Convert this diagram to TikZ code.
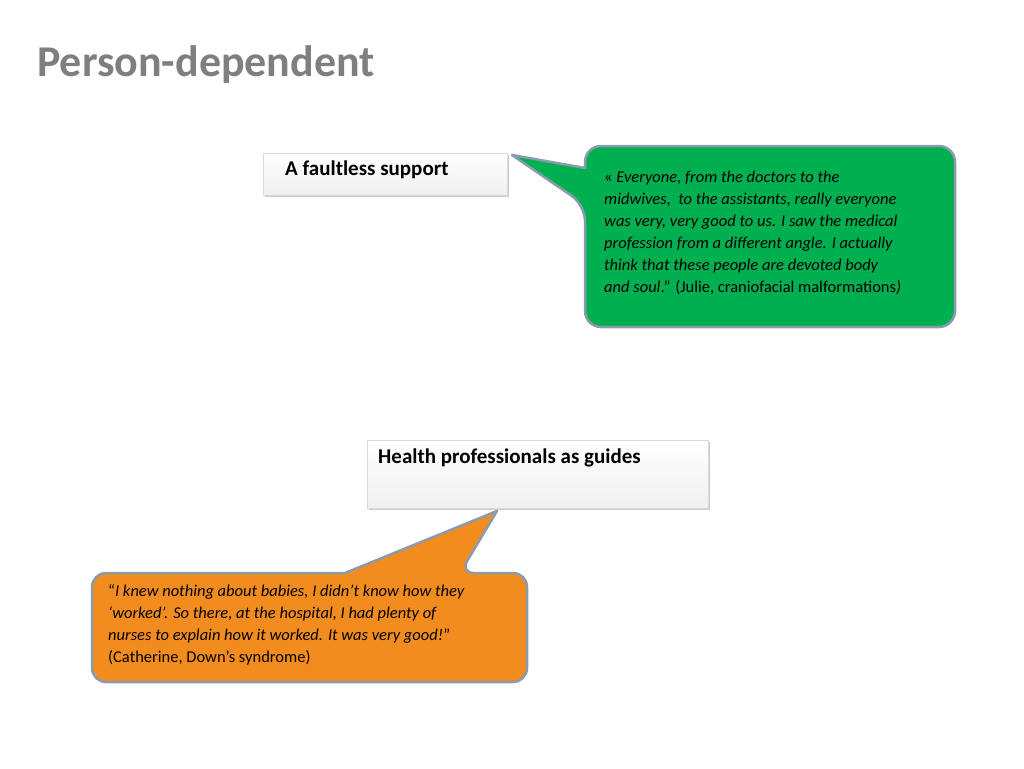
\documentclass[tikz,border=0pt]{standalone}
\usepackage{fontspec}
\setmainfont{Carlito}
\usetikzlibrary{shadows}
\definecolor{titlegray}{HTML}{7F7F7F}
\definecolor{cgreen}{HTML}{00B050}
\definecolor{corange}{HTML}{F28C1E}
\definecolor{cborder}{HTML}{8A9BAD}
\begin{document}
\begin{tikzpicture}[x=1pt,y=-1pt,
  hbox/.style={draw=gray!30,top color=white,bottom color=gray!12,drop shadow={shadow xshift=2pt,shadow yshift=-2pt,opacity=0.4},inner sep=0pt},
  hlabel/.style={font=\fontsize{21}{24}\selectfont\bfseries,anchor=north west,inner sep=0pt},
  callout/.style={draw=cborder,line width=2.5pt,line join=round},
  qtext/.style={font=\fontsize{16.5}{22}\selectfont,align=left,anchor=north west,inner sep=0pt}]
\useasboundingbox (0,0) rectangle (1024,768);
\node[anchor=base west,inner sep=0pt,text=titlegray,font=\fontsize{44}{48}\selectfont\bfseries] (title) at (37,76) {Person-dependent};
% box 1
\path[hbox] (263,153) rectangle (507,195);
\node[hlabel] (b1) at (285,161) {A faultless support};
% green callout
\draw[callout,fill=cgreen,rounded corners=16pt] (585,168) -- (585,146) -- (955,146) -- (955,327) -- (585,327) -- (585,205) [sharp corners] -- (512,155) -- cycle;
\node[qtext] (q1) at (604,171) {« \textit{Everyone, from the doctors to the}\\
\textit{midwives,\ \ to the assistants, really everyone}\\
\textit{was very, very good to us. I saw the medical}\\
\textit{profession from a different angle. I actually}\\
\textit{think that these people are devoted body}\\
\textit{and soul}.” (Julie, craniofacial malformations\textit{)}};
% box 2
\path[hbox] (367,440) rectangle (708,508);
\node[hlabel] (b2) at (378,449) {Health professionals as guides};
% orange callout
\draw[callout,fill=corange,rounded corners=14pt] (345,573) -- (92,573) -- (92,682) -- (527,682) -- (527,573) -- (460,573) [sharp corners] -- (497,511) -- cycle;
\node[qtext] (q2) at (108,584) {“\textit{I knew nothing about babies, I didn’t know how they}\\
\textit{‘worked’. So there, at the hospital, I had plenty of}\\
\textit{nurses to explain how it worked. It was very good!}”\\
(Catherine, Down’s syndrome)};
\end{tikzpicture}
\end{document}
